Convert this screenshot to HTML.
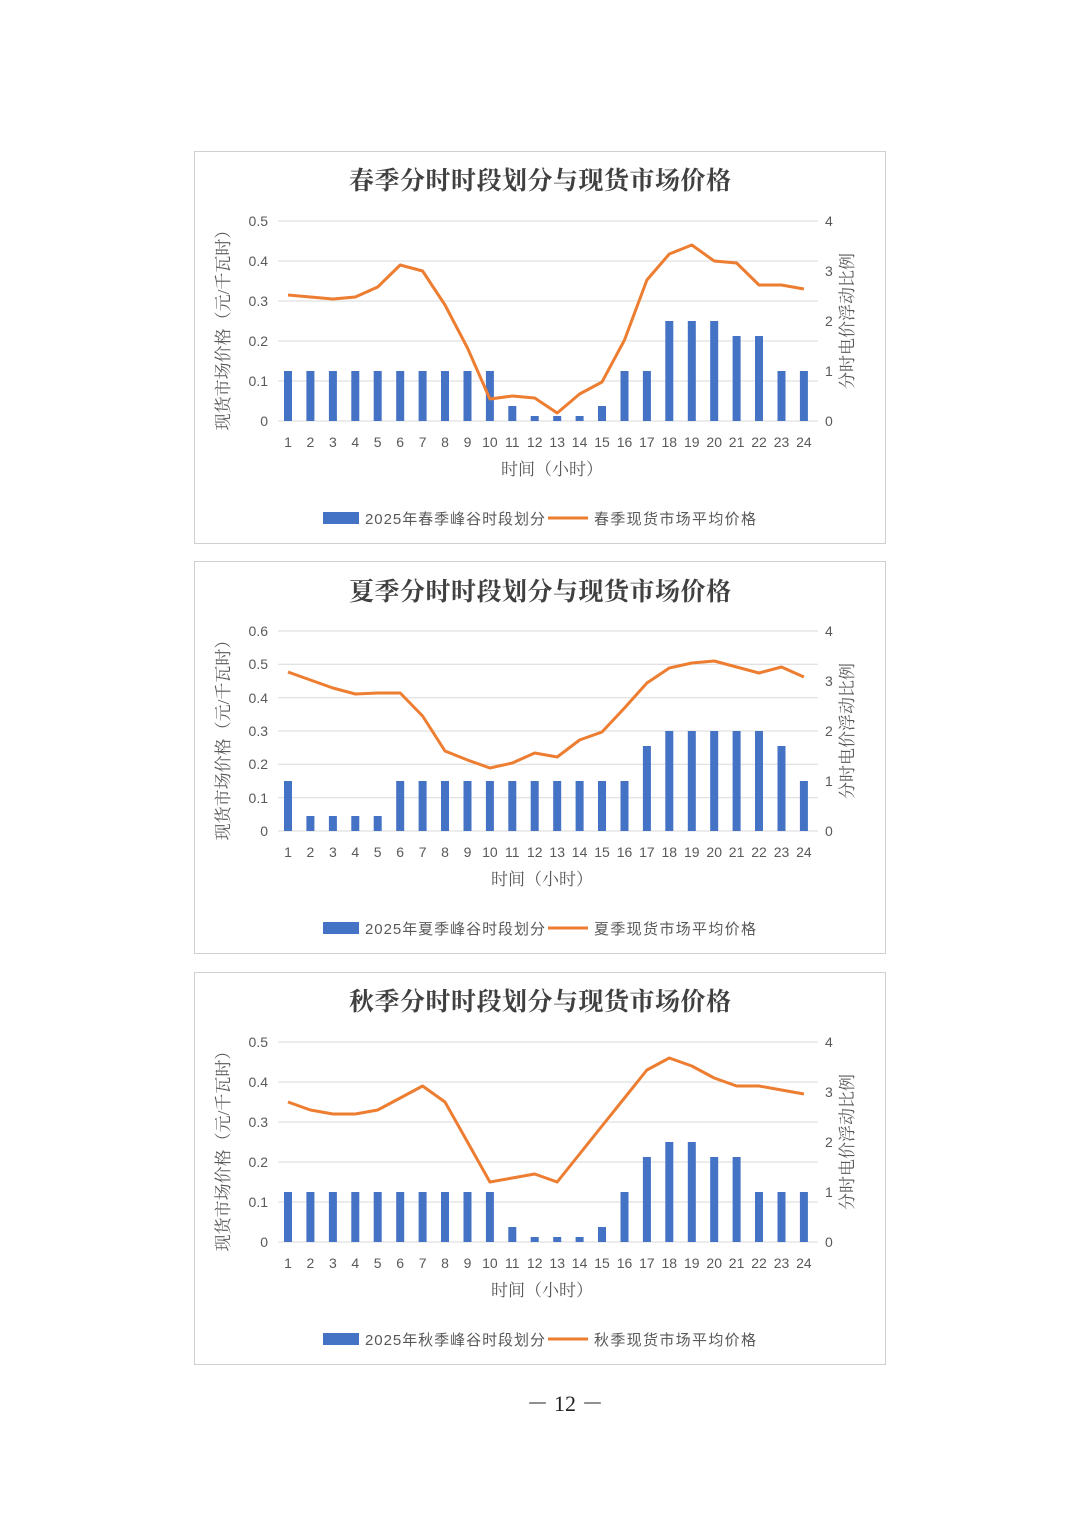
<!DOCTYPE html>
<html><head><meta charset="utf-8"><style>
html,body{margin:0;padding:0;background:#fff;}
svg{display:block;}
text{font-family:"Liberation Sans","Noto Sans CJK SC",sans-serif;fill:#595959;}
.t{font-family:"Liberation Serif","Noto Serif CJK SC",serif;font-size:25px;fill:#404040;font-weight:bold;}
.ax{font-size:14px;}
.at{font-family:"Liberation Serif","Noto Serif CJK SC",serif;font-size:17px;}
.lg{font-size:15px;}
.g{stroke:#d9d9d9;stroke-width:1;}
.b{fill:#4472c4;}
.l{fill:none;stroke:#ed7d31;stroke-width:3;stroke-linejoin:round;}
</style></head><body>
<svg width="1080" height="1527" viewBox="0 0 1080 1527" xmlns="http://www.w3.org/2000/svg">
<defs>
<g id="frame">
<rect x="194.5" y="151.5" width="691" height="392" fill="#fff" stroke="#d0d0d0"/>
<g class="g"><line x1="278" x2="818" y1="221" y2="221"/></g>
<line x1="278" x2="818" y1="421" y2="421" stroke="#d9d9d9"/>
<g class="ax" text-anchor="start">
<text x="825" y="226">4</text><text x="825" y="276">3</text><text x="825" y="326">2</text><text x="825" y="376">1</text><text x="825" y="426">0</text>
</g>
<g class="ax" text-anchor="middle">
<text x="288" y="447">1</text><text x="310.4" y="447">2</text><text x="332.9" y="447">3</text><text x="355.3" y="447">4</text><text x="377.7" y="447">5</text><text x="400.2" y="447">6</text><text x="422.6" y="447">7</text><text x="445" y="447">8</text><text x="467.5" y="447">9</text><text x="489.9" y="447">10</text><text x="512.3" y="447">11</text><text x="534.7" y="447">12</text><text x="557.2" y="447">13</text><text x="579.6" y="447">14</text><text x="602" y="447">15</text><text x="624.5" y="447">16</text><text x="646.9" y="447">17</text><text x="669.3" y="447">18</text><text x="691.8" y="447">19</text><text x="714.2" y="447">20</text><text x="736.6" y="447">21</text><text x="759" y="447">22</text><text x="781.5" y="447">23</text><text x="803.9" y="447">24</text>
</g>
<text class="at" x="229" y="326" text-anchor="middle" transform="rotate(-90 229 326)">现货市场价格（元/千瓦时）</text>
<text class="at" x="853" y="321" text-anchor="middle" transform="rotate(-90 853 321)">分时电价浮动比例</text>
<rect x="323" y="512" width="36" height="12" class="b"/>
<line x1="548" x2="588" y1="518" y2="518" stroke="#ed7d31" stroke-width="3"/>
</g>
</defs>

<!-- Chart 1 -->
<use href="#frame"/>
<g class="g"><line x1="278" x2="818" y1="261" y2="261"/><line x1="278" x2="818" y1="301" y2="301"/><line x1="278" x2="818" y1="341" y2="341"/><line x1="278" x2="818" y1="381" y2="381"/></g>
<g class="ax" text-anchor="end"><text x="268" y="226">0.5</text><text x="268" y="266">0.4</text><text x="268" y="306">0.3</text><text x="268" y="346">0.2</text><text x="268" y="386">0.1</text><text x="268" y="426">0</text></g>
<text class="t" x="540" y="189" text-anchor="middle" textLength="382">春季分时时段划分与现货市场价格</text>
<text class="at" x="552" y="475" text-anchor="middle">时间（小时）</text>
<text class="lg" x="365" y="524" textLength="180">2025年春季峰谷时段划分</text>
<text class="lg" x="594" y="524" textLength="162">春季现货市场平均价格</text>
<g class="b">
<rect x="284" y="371" width="8" height="50"/><rect x="306.4" y="371" width="8" height="50"/><rect x="328.9" y="371" width="8" height="50"/><rect x="351.3" y="371" width="8" height="50"/><rect x="373.7" y="371" width="8" height="50"/><rect x="396.2" y="371" width="8" height="50"/><rect x="418.6" y="371" width="8" height="50"/><rect x="441" y="371" width="8" height="50"/><rect x="463.5" y="371" width="8" height="50"/><rect x="485.9" y="371" width="8" height="50"/>
<rect x="508.3" y="406" width="8" height="15"/><rect x="530.7" y="416" width="8" height="5"/><rect x="553.2" y="416" width="8" height="5"/><rect x="575.6" y="416" width="8" height="5"/><rect x="598" y="406" width="8" height="15"/>
<rect x="620.5" y="371" width="8" height="50"/><rect x="642.9" y="371" width="8" height="50"/>
<rect x="665.3" y="321" width="8" height="100"/><rect x="687.8" y="321" width="8" height="100"/><rect x="710.2" y="321" width="8" height="100"/>
<rect x="732.6" y="336" width="8" height="85"/><rect x="755" y="336" width="8" height="85"/>
<rect x="777.5" y="371" width="8" height="50"/><rect x="799.9" y="371" width="8" height="50"/>
</g>
<polyline class="l" points="288,295 310.4,297 332.9,299 355.3,297 377.7,287 400.2,265 422.6,271 445,305 467.5,348 489.9,399 512.3,396 534.7,398 557.2,413 579.6,394 602,382 624.5,340 646.9,280 669.3,254 691.8,245 714.2,261 736.6,263 759,285 781.5,285 803.9,289"/>

<!-- Chart 2 -->
<g transform="translate(0,410)">
<use href="#frame"/>
<g class="g"><line x1="278" x2="818" y1="254.3" y2="254.3"/><line x1="278" x2="818" y1="287.7" y2="287.7"/><line x1="278" x2="818" y1="321" y2="321"/><line x1="278" x2="818" y1="354.3" y2="354.3"/><line x1="278" x2="818" y1="387.7" y2="387.7"/></g>
<g class="ax" text-anchor="end"><text x="268" y="226">0.6</text><text x="268" y="259">0.5</text><text x="268" y="293">0.4</text><text x="268" y="326">0.3</text><text x="268" y="359">0.2</text><text x="268" y="393">0.1</text><text x="268" y="426">0</text></g>
<text class="t" x="540" y="190" text-anchor="middle" textLength="382">夏季分时时段划分与现货市场价格</text>
<text class="at" x="542" y="475" text-anchor="middle">时间（小时）</text>
<text class="lg" x="365" y="524" textLength="180">2025年夏季峰谷时段划分</text>
<text class="lg" x="594" y="524" textLength="162">夏季现货市场平均价格</text>
<g class="b">
<rect x="284" y="371" width="8" height="50"/>
<rect x="306.4" y="406" width="8" height="15"/><rect x="328.9" y="406" width="8" height="15"/><rect x="351.3" y="406" width="8" height="15"/><rect x="373.7" y="406" width="8" height="15"/>
<rect x="396.2" y="371" width="8" height="50"/><rect x="418.6" y="371" width="8" height="50"/><rect x="441" y="371" width="8" height="50"/><rect x="463.5" y="371" width="8" height="50"/><rect x="485.9" y="371" width="8" height="50"/><rect x="508.3" y="371" width="8" height="50"/><rect x="530.7" y="371" width="8" height="50"/><rect x="553.2" y="371" width="8" height="50"/><rect x="575.6" y="371" width="8" height="50"/><rect x="598" y="371" width="8" height="50"/><rect x="620.5" y="371" width="8" height="50"/>
<rect x="642.9" y="336" width="8" height="85"/>
<rect x="665.3" y="321" width="8" height="100"/><rect x="687.8" y="321" width="8" height="100"/><rect x="710.2" y="321" width="8" height="100"/><rect x="732.6" y="321" width="8" height="100"/><rect x="755" y="321" width="8" height="100"/>
<rect x="777.5" y="336" width="8" height="85"/><rect x="799.9" y="371" width="8" height="50"/>
</g>
<polyline class="l" points="288,262 310.4,270 332.9,278 355.3,284 377.7,283 400.2,283 422.6,306 445,341 467.5,350 489.9,358 512.3,353 534.7,343 557.2,347 579.6,330 602,322 624.5,298 646.9,273 669.3,258 691.8,253 714.2,251 736.6,257 759,263 781.5,257 803.9,267"/>
</g>

<!-- Chart 3 -->
<g transform="translate(0,821)">
<use href="#frame"/>
<g class="g"><line x1="278" x2="818" y1="261" y2="261"/><line x1="278" x2="818" y1="301" y2="301"/><line x1="278" x2="818" y1="341" y2="341"/><line x1="278" x2="818" y1="381" y2="381"/></g>
<g class="ax" text-anchor="end"><text x="268" y="226">0.5</text><text x="268" y="266">0.4</text><text x="268" y="306">0.3</text><text x="268" y="346">0.2</text><text x="268" y="386">0.1</text><text x="268" y="426">0</text></g>
<text class="t" x="540" y="189" text-anchor="middle" textLength="382">秋季分时时段划分与现货市场价格</text>
<text class="at" x="542" y="475" text-anchor="middle">时间（小时）</text>
<text class="lg" x="365" y="524" textLength="180">2025年秋季峰谷时段划分</text>
<text class="lg" x="594" y="524" textLength="162">秋季现货市场平均价格</text>
<g class="b">
<rect x="284" y="371" width="8" height="50"/><rect x="306.4" y="371" width="8" height="50"/><rect x="328.9" y="371" width="8" height="50"/><rect x="351.3" y="371" width="8" height="50"/><rect x="373.7" y="371" width="8" height="50"/><rect x="396.2" y="371" width="8" height="50"/><rect x="418.6" y="371" width="8" height="50"/><rect x="441" y="371" width="8" height="50"/><rect x="463.5" y="371" width="8" height="50"/><rect x="485.9" y="371" width="8" height="50"/>
<rect x="508.3" y="406" width="8" height="15"/><rect x="530.7" y="416" width="8" height="5"/><rect x="553.2" y="416" width="8" height="5"/><rect x="575.6" y="416" width="8" height="5"/><rect x="598" y="406" width="8" height="15"/>
<rect x="620.5" y="371" width="8" height="50"/><rect x="642.9" y="336" width="8" height="85"/>
<rect x="665.3" y="321" width="8" height="100"/><rect x="687.8" y="321" width="8" height="100"/>
<rect x="710.2" y="336" width="8" height="85"/><rect x="732.6" y="336" width="8" height="85"/>
<rect x="755" y="371" width="8" height="50"/><rect x="777.5" y="371" width="8" height="50"/><rect x="799.9" y="371" width="8" height="50"/>
</g>
<polyline class="l" points="288,281 310.4,289 332.9,293 355.3,293 377.7,289 400.2,277 422.6,265 445,281 467.5,321 489.9,361 512.3,357 534.7,353 557.2,361 579.6,333 602,305 624.5,277 646.9,249 669.3,237 691.8,245 714.2,257 736.6,265 759,265 781.5,269 803.9,273"/>
</g>

<text x="565" y="1411" text-anchor="middle" style="font-family:'Liberation Serif','Noto Serif CJK SC',serif;font-size:22px;fill:#222">－ 12 －</text>
</svg>
</body></html>
